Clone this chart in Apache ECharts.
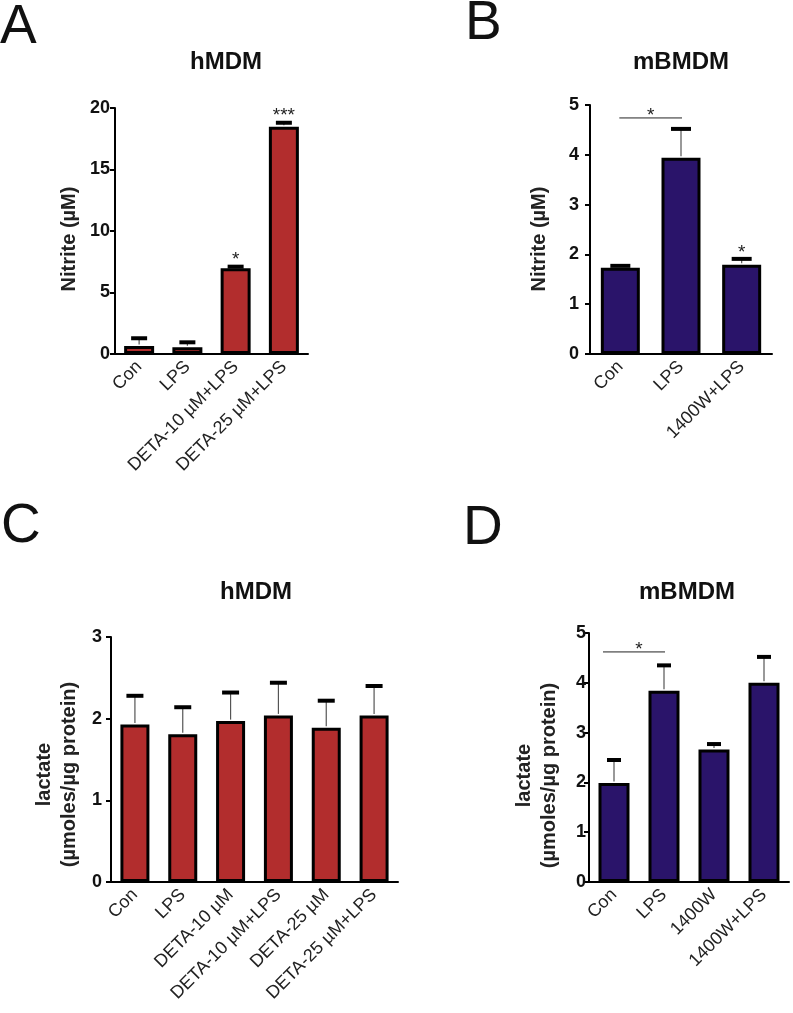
<!DOCTYPE html>
<html>
<head>
<meta charset="utf-8">
<script src="https://cdn.jsdelivr.net/npm/echarts@6/dist/echarts.min.js"></script>
<style>
  html, body { margin: 0; padding: 0; background: #fff; }
  #main { width: 793px; height: 1013px; }
</style>
</head>
<body>
<div id="main"></div>
<script>
// panel A - hMDM nitrite
const catsA = ['Con', 'LPS', 'DETA-10 µM+LPS', 'DETA-25 µM+LPS'];
const valsA = [0.65, 0.55, 6.97, 18.48];
const errA = [1.28, 0.95, 7.1, 18.8];
const starsA = ['', '', '*', '***'];

// panel B - mBMDM nitrite
const catsB = ['Con', 'LPS', '1400W+LPS'];
const valsB = [1.73, 3.94, 1.79];
const errB = [1.77, 4.52, 1.91];
const starsB = ['', '', '*'];

// panel C - hMDM lactate
const catsC = ['Con', 'LPS', 'DETA-10 µM', 'DETA-10 µM+LPS', 'DETA-25 µM', 'DETA-25 µM+LPS'];
const valsC = [1.93, 1.81, 1.97, 2.04, 1.89, 2.04];
const errC = [2.28, 2.14, 2.32, 2.44, 2.22, 2.40];

// panel D - mBMDM lactate
const catsD = ['Con', 'LPS', '1400W', '1400W+LPS'];
const valsD = [1.99, 3.84, 2.66, 4.0];
const errD = [2.45, 4.35, 2.77, 4.52];

// significance brackets: [from category, to category, height]
const sigB = [[0, 1, 4.74]];
const sigD = [[0, 1, 4.62]];

const RED = '#B22D2D';
const NAVY = '#2A146A';
const FONT = 'Liberation Sans, Arial, sans-serif';
const NARROW = 'Liberation Sans Narrow, Liberation Sans, Arial, sans-serif';

const panels = [
    { cats: catsA, vals: valsA, err: errA, stars: starsA, sig: [], color: RED,
      grid: { left: 115, top: 108, width: 193, height: 246 },
      max: 20, interval: 5, barWidth: 30, capW: 16, tickFont: NARROW, tickMargin: 5,
      name: 'Nitrite (µM)', nameGap: 33, nameShift: 16 },
    { cats: catsB, vals: valsB, err: errB, stars: starsB, sig: sigB, color: NAVY,
      grid: { left: 590, top: 105, width: 182, height: 249 },
      max: 5, interval: 1, barWidth: 39, capW: 20, tickFont: FONT, tickMargin: 11,
      name: 'Nitrite (µM)', nameGap: 38, nameShift: 19 },
    { cats: catsC, vals: valsC, err: errC, stars: [], sig: [], color: RED,
      grid: { left: 111, top: 637, width: 287, height: 245 },
      max: 3, interval: 1, barWidth: 29, capW: 17, tickFont: FONT, tickMargin: 9,
      name: 'lactate\n(µmoles/µg protein)', nameGap: 29, nameShift: 30 },
    { cats: catsD, vals: valsD, err: errD, stars: [], sig: sigD, color: NAVY,
      grid: { left: 589, top: 633, width: 200, height: 249 },
      max: 5, interval: 1, barWidth: 31, capW: 14, tickFont: NARROW, tickMargin: 3,
      name: 'lactate\n(µmoles/µg protein)', nameGap: 27, nameShift: 36 }
];

const grids = [], xAxes = [], yAxes = [], series = [];

panels.forEach(function(p, i) {
    grids.push(p.grid);
    xAxes.push({
        type: 'category',
        gridIndex: i,
        data: p.cats,
        axisLine: { lineStyle: { color: '#000', width: 2 } },
        axisTick: { alignWithLabel: true, length: 7, lineStyle: { color: '#000', width: 2 } },
        axisLabel: { rotate: 45, fontFamily: FONT, fontSize: 18, color: '#222', margin: 10, interval: 0 }
    });
    yAxes.push({
        type: 'value',
        gridIndex: i,
        min: 0,
        max: p.max,
        interval: p.interval,
        name: p.name,
        nameLocation: 'middle',
        nameGap: p.nameGap,
        nameTextStyle: { fontFamily: FONT, fontSize: 20, fontWeight: 'bold', color: '#222', lineHeight: 25,
                         padding: [0, p.nameShift, 0, 0] },
        axisLine: { show: true, lineStyle: { color: '#000', width: 2 } },
        axisTick: { show: true, length: 5, lineStyle: { color: '#000', width: 2 } },
        axisLabel: { fontFamily: p.tickFont, fontSize: 18, fontWeight: 'bold', color: '#111', margin: p.tickMargin },
        splitLine: { show: false }
    });
    series.push({
        type: 'bar',
        xAxisIndex: i,
        yAxisIndex: i,
        data: p.vals,
        barWidth: p.barWidth,
        itemStyle: { color: p.color, borderColor: '#000', borderWidth: 3 },
        z: 2
    });
    // error bars (upper only)
    series.push({
        type: 'custom',
        xAxisIndex: i,
        yAxisIndex: i,
        data: p.vals.map(function(v, k) { return [k, v, p.err[k]]; }),
        encode: { x: 0, y: [1, 2] },
        z: 3,
        renderItem: function(params, api) {
            const top = api.coord([api.value(0), api.value(2)]);
            const base = api.coord([api.value(0), api.value(1)]);
            return {
                type: 'group',
                children: [
                    { type: 'line', shape: { x1: top[0], y1: base[1] - 1.5, x2: top[0], y2: top[1] },
                      style: { stroke: '#555', lineWidth: 1.2 } },
                    { type: 'rect', shape: { x: top[0] - p.capW / 2, y: top[1] - 2, width: p.capW, height: 4 },
                      style: { fill: '#000' } }
                ]
            };
        }
    });
    if (p.stars.length) {
        series.push({
            type: 'custom',
            xAxisIndex: i,
            yAxisIndex: i,
            data: p.err.map(function(e, k) { return [k, e]; }),
            z: 4,
            renderItem: function(params, api) {
                const txt = p.stars[params.dataIndex];
                if (!txt) return null;
                const pt = api.coord([api.value(0), api.value(1)]);
                return {
                    type: 'text',
                    style: { text: txt, x: pt[0], y: pt[1] + 3, fontFamily: FONT, fontSize: 19,
                             fill: '#222', align: 'center', verticalAlign: 'bottom' }
                };
            }
        });
    }
    if (p.sig.length) {
        series.push({
            type: 'custom',
            xAxisIndex: i,
            yAxisIndex: i,
            data: p.sig,
            encode: { x: [0, 1], y: 2 },
            z: 4,
            renderItem: function(params, api) {
                const a = api.coord([api.value(0), api.value(2)]);
                const b = api.coord([api.value(1), api.value(2)]);
                const off = i === 3 ? -11 : -1;
                return {
                    type: 'group',
                    children: [
                        { type: 'line', shape: { x1: a[0] + off, y1: a[1], x2: b[0] + 1, y2: b[1] },
                          style: { stroke: '#222', lineWidth: 1 } },
                        { type: 'text', style: { text: '*', x: (a[0] + b[0]) / 2, y: a[1] + 7, fontFamily: FONT,
                          fontSize: 19, fill: '#222', align: 'center', verticalAlign: 'bottom' } }
                    ]
                };
            }
        });
    }
});

function label(text, x, y, size, bold, align) {
    return {
        type: 'text',
        x: x,
        y: y,
        style: { text: text, fontFamily: FONT, fontSize: size, fontWeight: bold ? 'bold' : 'normal',
                 fill: '#111', align: align, verticalAlign: 'middle' }
    };
}

const chart = echarts.init(document.getElementById('main'));
chart.setOption({
    animation: false,
    grid: grids,
    xAxis: xAxes,
    yAxis: yAxes,
    series: series,
    graphic: [
        label('A', 0, 28, 55, false, 'left'),
        label('B', 465, 24, 55, false, 'left'),
        label('C', 1, 527, 55, false, 'left'),
        label('D', 463, 529, 55, false, 'left'),
        label('hMDM', 226, 62, 24, true, 'center'),
        label('mBMDM', 681, 62, 24, true, 'center'),
        label('hMDM', 256, 592, 24, true, 'center'),
        label('mBMDM', 687, 592, 24, true, 'center')
    ]
});
</script>
</body>
</html>
